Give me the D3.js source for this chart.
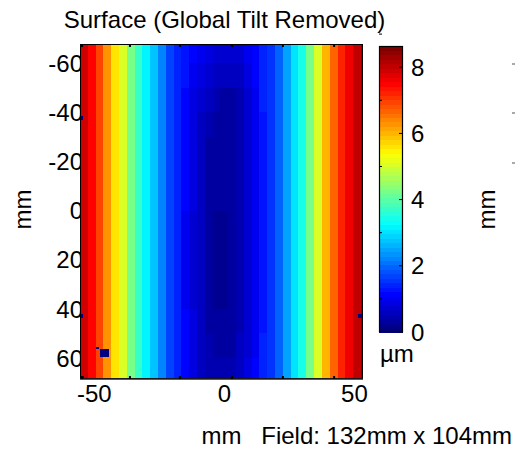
<!DOCTYPE html>
<html><head><meta charset="utf-8">
<script src="https://cdn.jsdelivr.net/npm/d3@7"></script>
<style>html,body{margin:0;padding:0;background:#fff;} svg{display:block;font-family:"Liberation Sans",Arial,sans-serif;}</style>
</head><body><svg id="c" width="515" height="449"></svg>
<script>
// ---- data (mm, µm) ----
const xCols = [-54,-51,-48,-45,-42,-39,-36,-33,-30,-27,-24,-21,-18,-15,-12,-9,-6,-3,0,3,6,9,12,15,18,21,24,27,30,33,36,39,42,45,48,51,54];
const yRows = [-65,-55,-45,-35,-25,-15,-5,5,15,25,35,45,55,65];
const outerLeft  = [7.9,7.5,7.0,6.3,5.6,5.0,4.3,3.7,3.2,2.7,2.2,1.75,1.4];
const outerRight = [1.6,2.0,2.5,3.0,3.4,4.2,5.1,6.0,6.7,7.2,7.6,8.0,8.5];
const centerByRow = [
  [1.3,1.1,0.95,0.85,0.8,0.75,0.75,0.8,0.95,1.15,1.45],
  [1.25,1.0,0.85,0.7,0.6,0.55,0.55,0.65,0.85,1.1,1.4],
  [1.15,0.9,0.7,0.55,0.45,0.4,0.4,0.5,0.75,1.05,1.35],
  [1.1,0.85,0.62,0.45,0.35,0.3,0.32,0.45,0.72,1.0,1.3],
  [1.1,0.85,0.6,0.4,0.3,0.3,0.35,0.5,0.75,1.0,1.3],
  [1.1,0.85,0.6,0.4,0.3,0.3,0.35,0.5,0.75,1.0,1.3],
  [1.08,0.82,0.58,0.38,0.28,0.28,0.33,0.48,0.72,1.0,1.3],
  [1.05,0.8,0.55,0.35,0.25,0.25,0.3,0.45,0.7,1.0,1.3],
  [1.05,0.8,0.55,0.35,0.25,0.25,0.3,0.45,0.7,1.0,1.3],
  [1.05,0.8,0.55,0.35,0.25,0.25,0.3,0.45,0.7,1.0,1.3],
  [1.05,0.8,0.55,0.35,0.25,0.25,0.3,0.45,0.7,1.0,1.3],
  [1.1,0.85,0.6,0.4,0.3,0.3,0.35,0.5,0.75,1.0,1.3],
  [1.1,0.85,0.6,0.42,0.35,0.35,0.4,0.55,0.8,1.05,1.35],
  [1.1,0.9,0.65,0.5,0.42,0.42,0.48,0.62,0.85,1.1,1.4]
];
// bad pixels [x0, x1, y0, y1] in mm, value 0
const defects = [
  [-47.8,-44.2,56.2,59.6],
  [-49.2,-48.2,55.6,56.4],
  [-55.5,-54.3,-38.5,-36.9],
  [-55.5,-54.3,42.0,43.6],
  [51.4,53.3,42.0,43.8],
  [-55.5,-54.3,-67.7,-66.5],
  [-55.5,-53.8,67.2,68.5]
];
const xTickValues = [-50,0,50];
const yTickValues = [-60,-40,-20,0,20,40,60];
const cTickValues = [0,2,4,6,8];
const xMarkTicks = [-54.7,-36.3,-17.1,2.9,22.5,42.2];
const titleText = "Surface (Global Tilt Removed)";
const xLabel = "mm", yLabel = "mm", cLabel = "\u00b5m";
const fieldText = "Field: 132mm x 104mm";

const grid = yRows.map((y,i)=> outerLeft.concat(centerByRow[i], outerRight));

// ---- layout ----
const P = {l:80, r:363, t:44, b:379};
const CB = {l:379, r:403, t:46, b:332};
const FS = 24;

const svg = d3.select("#c");
const xs = d3.scaleLinear().domain([-55.5,53.3]).range([P.l,P.r]);
const ys = d3.scaleLinear().domain([-67.7,68.5]).range([P.t,P.b]);
const cmax = 8.64;
const cs = d3.scaleLinear().domain([0,cmax]).range([CB.b,CB.t]);
function jet(v){
  const t = Math.max(0,Math.min(1,v/cmax));
  const cl = a=>Math.max(0,Math.min(1,a));
  const r = cl(1.5-Math.abs(4*t-3)), g = cl(1.5-Math.abs(4*t-2)), b = cl(1.5-Math.abs(4*t-1));
  return d3.rgb(r*255,g*255,b*255).toString();
}
const q = v => Math.min(63, Math.floor(v/cmax*64)) / 63 * cmax;

// y tick labels (drawn first so image overlays edge)
svg.append("g").selectAll("text").data(yTickValues).join("text")
  .attr("x", P.l+3).attr("y", d=>ys(d)).attr("dy","0.36em")
  .attr("text-anchor","end").attr("font-size",FS).text(d=>d);

svg.append("defs").append("clipPath").attr("id","pc")
  .append("rect").attr("x",P.l).attr("y",P.t).attr("width",P.r-P.l).attr("height",P.b-P.t);
const hm = svg.append("g").attr("clip-path","url(#pc)").attr("shape-rendering","crispEdges");
const cells = [];
grid.forEach((row,i)=>row.forEach((v,j)=>cells.push({x:xCols[j],y:yRows[i],v})));
hm.selectAll("rect.cell").data(cells).join("rect").attr("class","cell")
  .attr("x", d=>xs(d.x-1.5)).attr("width", d=>xs(d.x+1.5)-xs(d.x-1.5)+0.6)
  .attr("y", d=>ys(d.y-5)).attr("height", d=>ys(d.y+5)-ys(d.y-5)+0.6)
  .attr("fill", d=>jet(q(d.v)));
hm.selectAll("rect.def").data(defects).join("rect").attr("class","def")
  .attr("x", d=>xs(d[0])).attr("width", d=>xs(d[1])-xs(d[0]))
  .attr("y", d=>ys(d[2])).attr("height", d=>ys(d[3])-ys(d[2]))
  .attr("fill", jet(0));

// frame
svg.append("rect").attr("x",P.l+0.5).attr("y",P.t+0.5).attr("width",P.r-P.l-1).attr("height",P.b-P.t-1)
  .attr("fill","none").attr("stroke","#000").attr("stroke-width",1);
svg.append("line").attr("x1",P.l).attr("x2",P.r).attr("y1",P.b).attr("y2",P.b).attr("stroke","#222").attr("stroke-width",1.5);
svg.append("g").selectAll("line").data(xMarkTicks).join("line")
  .attr("x1",d=>xs(d)).attr("x2",d=>xs(d)).attr("y1",P.b-3).attr("y2",P.b).attr("stroke","#000").attr("stroke-width",2);
svg.append("g").selectAll("line").data(xMarkTicks).join("line")
  .attr("x1",d=>xs(d)).attr("x2",d=>xs(d)).attr("y1",P.t).attr("y2",P.t+3).attr("stroke","#000").attr("stroke-width",2);

// x tick labels
svg.append("g").selectAll("text").data(xTickValues).join("text")
  .attr("x", d=>xs(d)).attr("y", 402).attr("text-anchor","middle").attr("font-size",FS).text(d=>d);

// title & labels
svg.append("text").attr("x",(P.l+P.r)/2+3).attr("y",28).attr("text-anchor","middle").attr("font-size",FS).text(titleText);
svg.append("text").attr("x",(P.l+P.r)/2).attr("y",444).attr("text-anchor","middle").attr("font-size",FS).text(xLabel);
svg.append("text").attr("x",512).attr("y",444).attr("text-anchor","end").attr("font-size",FS).text(fieldText);
svg.append("text").attr("transform",`translate(31,${(P.t+P.b)/2-2}) rotate(-90)`).attr("text-anchor","middle").attr("font-size",FS).text(yLabel);
svg.append("text").attr("transform",`translate(495,${(P.t+P.b)/2-2}) rotate(-90)`).attr("text-anchor","middle").attr("font-size",FS).text(yLabel);
svg.append("g").selectAll("rect").data([63,112,162]).join("rect")
  .attr("x",512).attr("y",d=>d).attr("width",3).attr("height",2).attr("fill","#aaa");

// colorbar
const levels = d3.range(64);
svg.append("g").attr("shape-rendering","crispEdges").selectAll("rect").data(levels).join("rect")
  .attr("x",CB.l).attr("width",CB.r-CB.l)
  .attr("y", d=>cs((d+1)/64*cmax)).attr("height", d=>cs(d/64*cmax)-cs((d+1)/64*cmax)+0.5)
  .attr("fill", d=>jet(d/63*cmax));
svg.append("rect").attr("x",CB.l+0.5).attr("y",CB.t+0.5).attr("width",CB.r-CB.l-1).attr("height",CB.b-CB.t-1)
  .attr("fill","none").attr("stroke","#000").attr("stroke-width",1.2);
svg.append("g").selectAll("line").data(cTickValues).join("line")
  .attr("x1",CB.r-4).attr("x2",CB.r).attr("y1",d=>cs(d)).attr("y2",d=>cs(d)).attr("stroke","#000");
svg.append("g").selectAll("line").data(cTickValues).join("line")
  .attr("x1",CB.l).attr("x2",CB.l+3).attr("y1",d=>cs(d+1)).attr("y2",d=>cs(d+1)).attr("stroke","#000");
svg.append("g").selectAll("text").data(cTickValues).join("text")
  .attr("x",CB.r+8).attr("y",d=>cs(d)).attr("dy","0.36em").attr("font-size",FS).text(d=>d);
svg.append("text").attr("x",CB.l+1).attr("y",362).attr("font-size",FS).text(cLabel);
</script></body></html>
